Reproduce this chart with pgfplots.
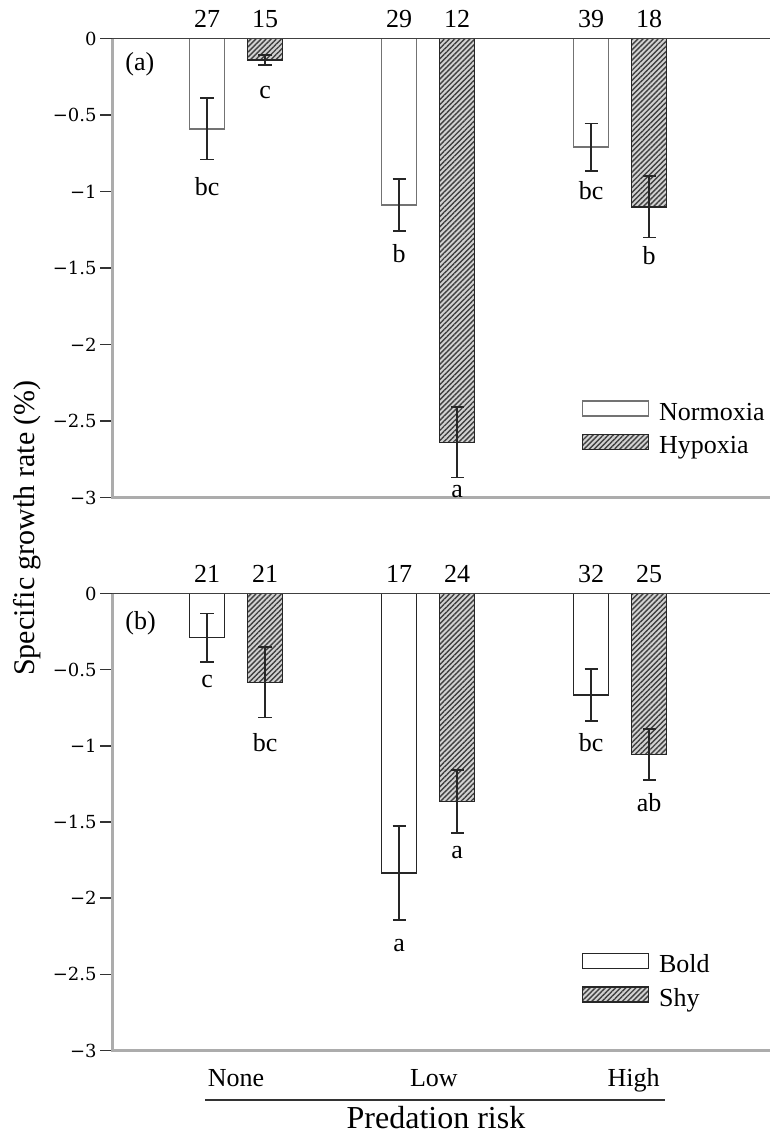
\documentclass[border=0pt]{standalone}
\usepackage{pgfplots}
\pgfplotsset{compat=1.18}
\usetikzlibrary{patterns.meta}
\usepackage{fontspec}
\setmainfont{Liberation Serif}
\newfontfamily\tickfont{DejaVu Serif}

\tikzset{lab/.style={font=\fontsize{13}{15}\selectfont, anchor=base, inner sep=0pt}}
\pgfplotsset{
  panel/.style={
    width=329pt, scale only axis,
    xmin=-0.646, xmax=2.78, ymin=-3, ymax=0,
    ybar=11.5pt, bar width=17.5pt,
    axis line style={draw=none},
    ytick={-3,-2.5,-2,-1.5,-1,-0.5,0},
    yticklabels={−3,−2.5,−2,−1.5,−1,−0.5,0},
    ytick pos=left, tick align=outside, major tick length=6pt,
    y tick style={black!80, line width=0.8pt},
    yticklabel style={font=\tickfont\fontsize{9}{10}\selectfont, inner sep=1.5pt},
    clip=false,
    legend cell align=left,
    legend style={draw=none, fill=none, inner sep=0pt, row sep=4pt, column sep=5pt,
      nodes={inner sep=0pt, text height=8pt, text depth=2.5pt, font=\fontsize{13}{15}\selectfont}},
    legend image code/.code={\draw[##1] (0pt,-0.6pt) rectangle (33pt,6.9pt);},
  },
  errs/.style={error bars/.cd, y dir=both, y explicit,
    error bar style={black!85, line width=0.8pt},
    error mark options={rotate=90, mark size=3.3pt, black!85, line width=0.8pt}},
  openbar/.style={draw=#1, line width=0.8pt, fill=white},
  hatchbar/.style={draw=black!85, line width=0.8pt, fill=gray!35,
    postaction={pattern={Lines[angle=45,distance=1.8pt,line width=0.7pt]}, pattern color=black!75}},
}

\begin{document}
\begin{tikzpicture}
\path[use as bounding box] (0,0) rectangle (385pt,-567.5pt);

% ---------------- Panel (a) ----------------
\begin{axis}[panel, at={(56pt,-19.25pt)}, anchor=north west, height=229.5pt,
  xtick=\empty,
  legend style={at={(0.713,0.148)}, anchor=west}]
\addplot[openbar=black!55, errs] coordinates {(0,-0.59) +- (0,0.20) (1,-1.09) +- (0,0.17) (2,-0.71) +- (0,0.155)};
\addplot[hatchbar, errs] coordinates {(0,-0.14) +- (0,0.033) (1,-2.64) +- (0,0.23) (2,-1.10) +- (0,0.20)};
\legend{Normoxia, Hypoxia}
\draw[gray!65, line width=1.5pt] (rel axis cs:0,1) -- (rel axis cs:0,0) -- (rel axis cs:1,0);
\draw[black!75, line width=0.9pt] (rel axis cs:0,1) -- (rel axis cs:1,1);
\node[lab] at ([yshift=5.5pt]axis cs:-0.151,0) {27};
\node[lab] at ([yshift=5.5pt]axis cs:0.151,0) {15};
\node[lab] at ([yshift=5.5pt]axis cs:0.849,0) {29};
\node[lab] at ([yshift=5.5pt]axis cs:1.151,0) {12};
\node[lab] at ([yshift=5.5pt]axis cs:1.849,0) {39};
\node[lab] at ([yshift=5.5pt]axis cs:2.151,0) {18};
\node[lab] at (axis cs:-0.151,-1.023) {bc};
\node[lab] at (axis cs:0.151,-0.389) {c};
\node[lab] at (axis cs:0.849,-1.461) {b};
\node[lab] at (axis cs:1.151,-2.997) {a};
\node[lab] at (axis cs:1.849,-1.05) {bc};
\node[lab] at (axis cs:2.151,-1.48) {b};
\node[lab, anchor=base west] at ([xshift=6.5pt,yshift=-15.75pt]rel axis cs:0,1) {(a)};
\end{axis}

% ---------------- Panel (b) ----------------
\begin{axis}[panel, at={(56pt,-296.75pt)}, anchor=north west, height=228.5pt,
  xtick={0,1.03,2.07}, xticklabels={None,Low,High},
  x tick style={draw=none},
  xticklabel style={font=\fontsize{13}{15}\selectfont, anchor=base, yshift=-12pt},
  legend style={at={(0.713,0.150)}, anchor=west}]
\addplot[openbar=black!85, errs] coordinates {(0,-0.29) +- (0,0.16) (1,-1.835) +- (0,0.31) (2,-0.666) +- (0,0.17)};
\addplot[hatchbar, errs] coordinates {(0,-0.583) +- (0,0.23) (1,-1.366) +- (0,0.207) (2,-1.057) +- (0,0.167)};
\legend{Bold, Shy}
\draw[gray!65, line width=1.5pt] (rel axis cs:0,1) -- (rel axis cs:0,0) -- (rel axis cs:1,0);
\draw[black!75, line width=0.9pt] (rel axis cs:0,1) -- (rel axis cs:1,1);
\node[lab] at ([yshift=5.5pt]axis cs:-0.151,0) {21};
\node[lab] at ([yshift=5.5pt]axis cs:0.151,0) {21};
\node[lab] at ([yshift=5.5pt]axis cs:0.849,0) {17};
\node[lab] at ([yshift=5.5pt]axis cs:1.151,0) {24};
\node[lab] at ([yshift=5.5pt]axis cs:1.849,0) {32};
\node[lab] at ([yshift=5.5pt]axis cs:2.151,0) {25};
\node[lab] at (axis cs:-0.151,-0.62) {c};
\node[lab] at (axis cs:0.151,-1.04) {bc};
\node[lab] at (axis cs:0.849,-2.35) {a};
\node[lab] at (axis cs:1.151,-1.74) {a};
\node[lab] at (axis cs:1.849,-1.04) {bc};
\node[lab] at (axis cs:2.151,-1.43) {ab};
\node[lab, anchor=base west] at ([xshift=6.5pt,yshift=-18pt]rel axis cs:0,1) {(b)};
\end{axis}

\draw[black!80, line width=0.9pt] (102.5pt,-550pt) -- (332.5pt,-550pt);
\node[font=\fontsize{16}{19}\selectfont, anchor=base, inner sep=0pt] at (218pt,-564pt) {Predation risk};
\node[rotate=90, font=\fontsize{15}{18}\selectfont, inner sep=0pt] at (13.75pt,-264pt) {Specific growth rate (\%)};
\end{tikzpicture}
\end{document}
